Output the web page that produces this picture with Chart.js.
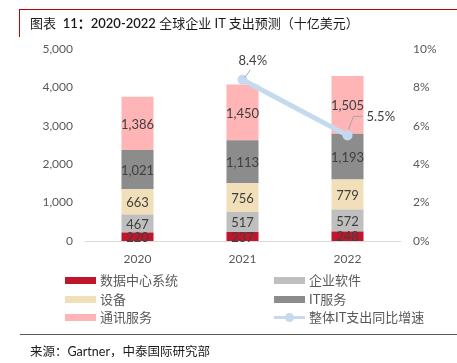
<!DOCTYPE html>
<html>
<head>
<meta charset="utf-8">
<script src="https://cdn.jsdelivr.net/npm/chart.js@4.4.1/dist/chart.umd.min.js"></script>
<style>
  html, body { margin: 0; padding: 0; background: #fff; }
  #wrap { position: relative; width: 457px; height: 363px; overflow: hidden;
    font-family: Lato, "Noto Sans CJK SC", sans-serif; }
  #chart { position: absolute; left: 0; top: 0; }
  .frameTop { position: absolute; left: 19px; top: 9px; width: 440px; height: 1px; background: #c00000; }
  .frameLeft { position: absolute; left: 19px; top: 9px; width: 1px; height: 28px; background: #c00000; }
  .title { position: absolute; left: 30px; top: 13px; font-size: 13px; color: #1a1a1a; white-space: nowrap; }
  .rule { position: absolute; left: 20px; top: 334px; width: 440px; height: 1px; background: #595959; }
  .source { position: absolute; left: 30px; top: 341px; font-size: 12.5px; color: #1a1a1a; white-space: nowrap; }
  .legend { position: absolute; font-size: 13px; color: #595959; white-space: nowrap; line-height: 16px; }
  .sw { position: absolute; width: 31px; height: 7px; top: 5px; }
</style>
</head>
<body>
<div id="wrap">
  <canvas id="chart" width="457" height="363"></canvas>
  <div class="frameTop"></div>
  <div class="frameLeft"></div>
  <div class="title">图表&nbsp; <span style="font-weight:600">11：2020-2022</span> 全球企业 IT 支出预测（十亿美元）</div>
  <div id="legend"></div>
  <div class="rule"></div>
  <div class="source">来源：Gartner，中泰国际研究部</div>
</div>
<script>
"use strict";

const years = ["2020", "2021", "2022"];
const dataCenter = [220, 237, 248];
const software = [467, 517, 572];
const devices = [663, 756, 779];
const itServices = [1021, 1113, 1193];
const telecom = [1386, 1450, 1505];
const growth = [null, 8.4, 5.5];
const leftTicks = [0, 1000, 2000, 3000, 4000, 5000];
const rightTicks = [0, 2, 4, 6, 8, 10];

const seriesNames = ["数据中心系统", "企业软件", "设备", "IT服务", "通讯服务", "整体IT支出同比增速"];
const seriesColors = ["#c0162c", "#bfbfbf", "#f1dfba", "#8c8c8c", "#ffb5b5", "#c5daee"];

// Labels in the middle of every bar segment
const barLabels = {
  id: "barLabels",
  afterDatasetsDraw(chart) {
    const ctx = chart.ctx;
    ctx.save();
    ctx.font = "13px Lato, sans-serif";
    ctx.fillStyle = "#404040";
    ctx.textAlign = "center";
    ctx.textBaseline = "middle";
    chart.data.datasets.forEach((ds, i) => {
      if (ds.type !== "bar") return;
      chart.getDatasetMeta(i).data.forEach((bar, j) => {
        const { x, y, base } = bar.getProps(["x", "y", "base"], true);
        ctx.fillText(ds.data[j].toLocaleString("en-US"), x, (y + base) / 2 + 1);
      });
    });
    ctx.restore();
  }
};

// Growth labels with small leader lines
const lineLabels = {
  id: "lineLabels",
  afterDatasetsDraw(chart) {
    const ctx = chart.ctx;
    const idx = chart.data.datasets.findIndex(ds => ds.type === "line");
    const pts = chart.getDatasetMeta(idx).data;
    ctx.save();
    ctx.font = "13px Lato, sans-serif";
    ctx.fillStyle = "#404040";
    ctx.strokeStyle = "#a6a6a6";
    ctx.lineWidth = 1;
    ctx.textBaseline = "middle";
    ctx.textAlign = "left";

    const p1 = pts[1];
    ctx.beginPath();
    ctx.moveTo(p1.x + 2, p1.y - 2);
    ctx.lineTo(p1.x + 8, p1.y - 10);
    ctx.stroke();
    ctx.fillText(growth[1].toFixed(1) + "%", p1.x - 4, p1.y - 19);

    const p2 = pts[2];
    ctx.beginPath();
    ctx.moveTo(p2.x + 1, p2.y - 6);
    ctx.lineTo(p2.x + 6, p2.y - 19);
    ctx.lineTo(p2.x + 15, p2.y - 19);
    ctx.stroke();
    ctx.fillText(growth[2].toFixed(1) + "%", p2.x + 19, p2.y - 19);
    ctx.restore();
  }
};

const barSeries = [dataCenter, software, devices, itServices, telecom];
const datasets = barSeries.map((values, i) => ({
  type: "bar",
  label: seriesNames[i],
  data: values,
  backgroundColor: seriesColors[i],
  yAxisID: "y",
  stack: "it",
  order: 1,
  barPercentage: 0.305,
  categoryPercentage: 1
}));
datasets.push({
  type: "line",
  label: seriesNames[5],
  data: growth,
  yAxisID: "y1",
  borderColor: seriesColors[5],
  backgroundColor: seriesColors[5],
  borderWidth: 5,
  pointRadius: 5,
  pointHoverRadius: 5,
  pointBorderWidth: 0,
  order: 0
});

const tickFont = { family: "Lato, sans-serif", size: 12 };

new Chart(document.getElementById("chart").getContext("2d"), {
  data: { labels: years, datasets: datasets },
  plugins: [barLabels, lineLabels],
  options: {
    responsive: false,
    animation: false,
    layout: { padding: { top: 49, left: 0, right: 0, bottom: 92 } },
    plugins: { legend: { display: false }, tooltip: { enabled: false } },
    scales: {
      x: {
        stacked: true,
        grid: { display: false, drawTicks: false },
        border: { display: true, color: "#d9d9d9", width: 1 },
        ticks: { color: "#595959", font: tickFont, padding: 11 },
        afterFit: s => { s.height = 30; }
      },
      y: {
        stacked: true,
        min: 0,
        max: 5000,
        afterBuildTicks: s => { s.ticks = leftTicks.map(v => ({ value: v })); },
        grid: { display: false, drawTicks: false },
        border: { display: false },
        ticks: {
          color: "#595959",
          font: tickFont,
          padding: 12,
          callback: v => v.toLocaleString("en-US")
        },
        afterFit: s => { s.width = 85; }
      },
      y1: {
        position: "right",
        min: 0,
        max: 10,
        afterBuildTicks: s => { s.ticks = rightTicks.map(v => ({ value: v })); },
        grid: { display: false, drawTicks: false },
        border: { display: false },
        ticks: {
          color: "#595959",
          font: tickFont,
          padding: 13,
          callback: v => v + "%"
        },
        afterFit: s => { s.width = 57; }
      }
    }
  }
});

// Two-column legend under the chart
const legendEl = document.getElementById("legend");
const legendPos = [[65, 272], [274, 272], [65, 291], [274, 291], [65, 309], [274, 309]];
seriesNames.forEach((name, s) => {
  const [lx, ly] = legendPos[s];
  const item = document.createElement("div");
  item.className = "legend";
  item.style.left = lx + "px";
  item.style.top = ly + "px";
  let mark;
  if (s === 5) {
    mark = `<div class="sw" style="height:3px;top:7px;background:${seriesColors[s]}"></div>` +
      `<div class="sw" style="width:9px;height:9px;top:4px;left:11px;border-radius:50%;background:${seriesColors[s]}"></div>`;
  } else {
    mark = `<div class="sw" style="background:${seriesColors[s]}"></div>`;
  }
  item.innerHTML = mark + `<span style="position:absolute;left:35px;top:0">${name}</span>`;
  legendEl.appendChild(item);
});
</script>
</body>
</html>
